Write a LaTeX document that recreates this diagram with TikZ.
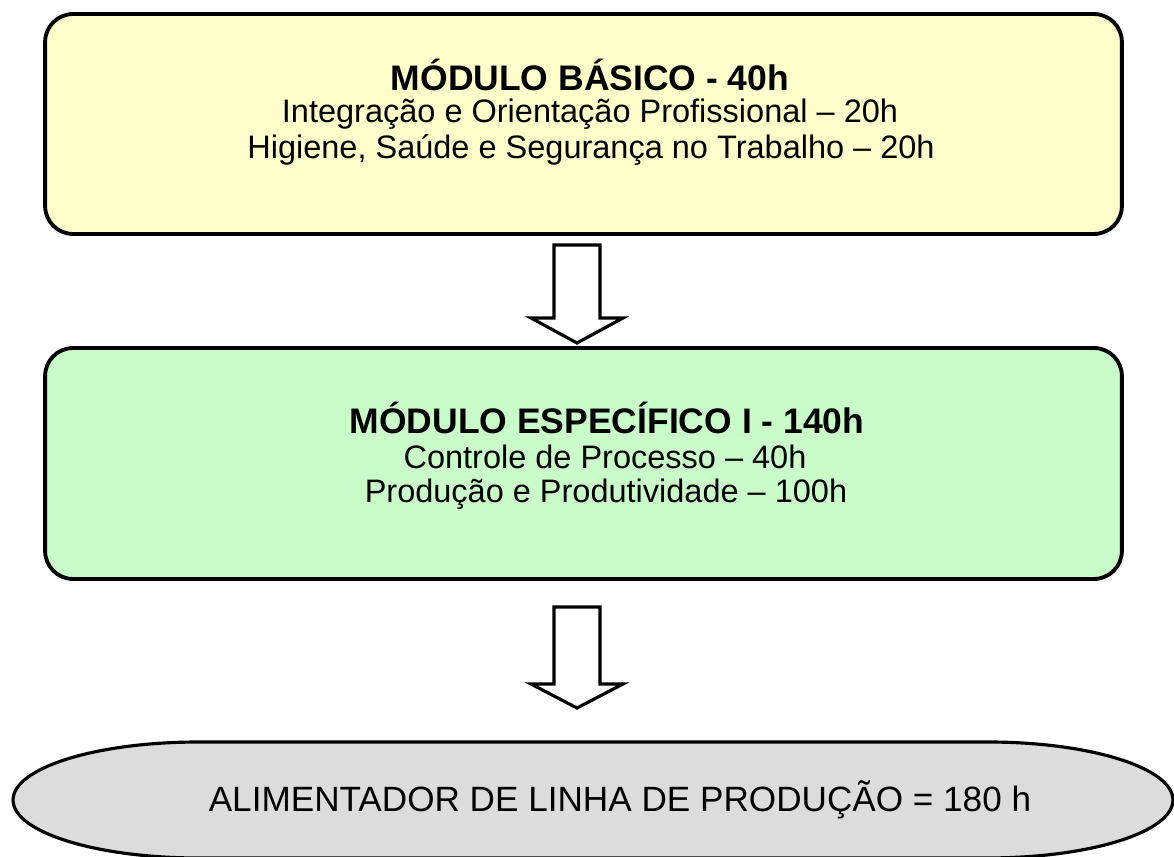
\documentclass[tikz,border=0pt]{standalone}
\usepackage{fontspec}
\setmainfont{Liberation Sans}
\definecolor{yel}{HTML}{FFFFCC}
\definecolor{grn}{HTML}{CAFCCA}
\definecolor{gry}{HTML}{DCDCDC}
\begin{document}
\begin{tikzpicture}[x=0.02cm,y=-0.02cm,
  box/.style={draw=black,line width=2.2pt,rounded corners=0.56cm,minimum width=21.54cm,inner sep=0pt},
  blockarrow/.style={draw=black,line width=1.8pt,fill=white,line join=miter},
  ttl/.style={font=\fontsize{20.2}{24}\selectfont\bfseries,inner sep=0pt},
  txt/.style={font=\fontsize{18.5}{22}\selectfont,inner sep=0pt},
  fin/.style={font=\fontsize{20}{24}\selectfont,inner sep=0pt}]
\useasboundingbox (0,0) rectangle (1174,857);
\fill[white] (0,0) rectangle (1174,857);
% boxes
\node[box,fill=yel,minimum height=4.4cm] (b1) at (583.5,124) {};
\node[box,fill=grn,minimum height=4.62cm] (b2) at (583.5,463.5) {};
% texts box 1
\node[ttl] (t1) at (590,75) {MÓDULO BÁSICO - 40h};
\node[txt] (t1a) at (590,114) {Integração e Orientação Profissional – 20h};
\node[txt] (t1b) at (591,150) {Higiene, Saúde e Segurança no Trabalho – 20h};
% texts box 2
\node[ttl] (t2) at (607,418) {MÓDULO ESPECÍFICO I - 140h};
\node[txt] (t2a) at (605,457) {Controle de Processo – 40h};
\node[txt] (t2b) at (606,494) {Produção e Produtividade – 100h};
% arrows
\coordinate (a1) at (577,245);
\coordinate (a2) at (577,607);
\draw[blockarrow] (a1) ++(-23,0) -- ++(46,0) -- ++(0,73) -- ++(23,0) -- ++(-46,25) -- ++(-46,-25) -- ++(23,0) -- cycle;
\draw[blockarrow] (a2) ++(-23,0) -- ++(46,0) -- ++(0,77) -- ++(23,0) -- ++(-46,24) -- ++(-46,-24) -- ++(23,0) -- cycle;
% final ellipse
\draw[line width=1.8pt,fill=gry] (198,742) -- (988,742)
  arc[start angle=90,end angle=-90,x radius=3.7cm,y radius=1.16cm]
  -- (198,858)
  arc[start angle=270,end angle=90,x radius=3.7cm,y radius=1.16cm] -- cycle;
\node[fin] (f) at (620,800) {ALIMENTADOR DE LINHA DE PRODUÇÃO = 180 h};
\end{tikzpicture}
\end{document}
